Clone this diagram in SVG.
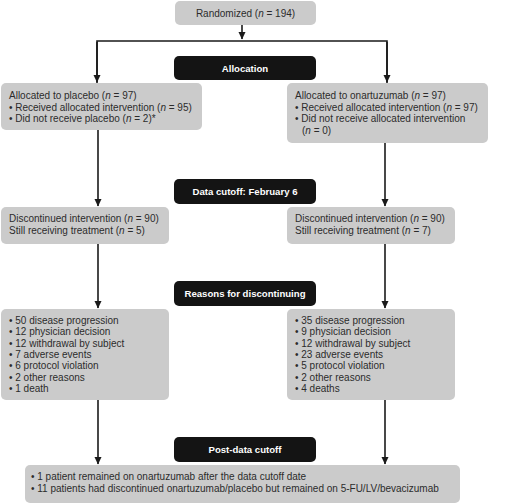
<svg xmlns="http://www.w3.org/2000/svg" width="520" height="504" viewBox="0 0 520 504">
<defs>
<marker id="ah" markerWidth="8" markerHeight="8" refX="7" refY="4" orient="auto" markerUnits="userSpaceOnUse"><path d="M0,0.5 L7.5,4 L0,7.5 Z" fill="#1a1a1a"/></marker>
<style>
.g{fill:#cbcbcb}
.k{fill:#141414}
.t{font-family:"Liberation Sans",Arial,sans-serif;font-size:10px;fill:#2b2b2b}
.w{font-family:"Liberation Sans",Arial,sans-serif;font-size:9.6px;font-weight:bold;fill:#fff}
.i{font-style:italic}
.c{stroke:#1a1a1a;stroke-width:1.6;fill:none}
</style>
</defs>
<rect width="520" height="504" fill="#fff"/>
<g id="connectors">
<path class="c" d="M242,25 V39" marker-end="url(#ah)"/>
<path class="c" d="M97,83 V41 H387 V83" />
<path class="c" d="M97,42 V82" marker-end="url(#ah)"/>
<path class="c" d="M387,42 V82" marker-end="url(#ah)"/>
<path class="c" d="M98,130 V206" marker-end="url(#ah)"/>
<path class="c" d="M385,143 V206" marker-end="url(#ah)"/>
<path class="c" d="M98,244 V308" marker-end="url(#ah)"/>
<path class="c" d="M385,244 V308" marker-end="url(#ah)"/>
<path class="c" d="M98,400 V464" marker-end="url(#ah)"/>
<path class="c" d="M385,400 V464" marker-end="url(#ah)"/>
</g>
<g id="randomized"><rect class="g" x="175" y="1" width="141" height="24" rx="5"/><text class="t" x="245.5" y="16.5" text-anchor="middle">Randomized (<tspan class="i">n</tspan> = 194)</text></g>
<g id="allocation"><rect class="k" x="174" y="56" width="142" height="24" rx="5"/><text class="w" x="245" y="71.5" text-anchor="middle">Allocation</text></g>
<g id="placebo"><rect class="g" x="1" y="83" width="201" height="47" rx="5"/>
<text class="t" x="9" y="99">Allocated to placebo (<tspan class="i">n</tspan> = 97)</text>
<text class="t" x="9" y="110.5">• Received allocated intervention (<tspan class="i">n</tspan> = 95)</text>
<text class="t" x="9" y="122">• Did not receive placebo (<tspan class="i">n</tspan> = 2)*</text></g>
<g id="onartuzumab"><rect class="g" x="287" y="83" width="201" height="60" rx="5"/>
<text class="t" x="295" y="99">Allocated to onartuzumab (<tspan class="i">n</tspan> = 97)</text>
<text class="t" x="295" y="110.5">• Received allocated intervention (<tspan class="i">n</tspan> = 97)</text>
<text class="t" x="295" y="122">• Did not receive allocated intervention</text>
<text class="t" x="302" y="133.5">(<tspan class="i">n</tspan> = 0)</text></g>
<g id="datacutoff"><rect class="k" x="174" y="179" width="142" height="25" rx="5"/><text class="w" x="245" y="195" text-anchor="middle">Data cutoff: February 6</text></g>
<g id="disc-left"><rect class="g" x="1" y="207" width="168" height="37" rx="5"/>
<text class="t" x="9" y="222">Discontinued intervention (<tspan class="i">n</tspan> = 90)</text>
<text class="t" x="9" y="233.5">Still receiving treatment (<tspan class="i">n</tspan> = 5)</text></g>
<g id="disc-right"><rect class="g" x="287" y="207" width="168" height="37" rx="5"/>
<text class="t" x="295" y="222">Discontinued intervention (<tspan class="i">n</tspan> = 90)</text>
<text class="t" x="295" y="233.5">Still receiving treatment (<tspan class="i">n</tspan> = 7)</text></g>
<g id="reasons"><rect class="k" x="174" y="281" width="142" height="25" rx="5"/><text class="w" x="245" y="297" text-anchor="middle">Reasons for discontinuing</text></g>
<g id="reasons-left"><rect class="g" x="1" y="309" width="168" height="91" rx="5"/>
<text class="t" x="9" y="324">• 50 disease progression</text>
<text class="t" x="9" y="335.3">• 12 physician decision</text>
<text class="t" x="9" y="346.6">• 12 withdrawal by subject</text>
<text class="t" x="9" y="357.9">• 7 adverse events</text>
<text class="t" x="9" y="369.2">• 6 protocol violation</text>
<text class="t" x="9" y="380.5">• 2 other reasons</text>
<text class="t" x="9" y="391.8">• 1 death</text></g>
<g id="reasons-right"><rect class="g" x="287" y="309" width="168" height="91" rx="5"/>
<text class="t" x="295" y="324">• 35 disease progression</text>
<text class="t" x="295" y="335.3">• 9 physician decision</text>
<text class="t" x="295" y="346.6">• 12 withdrawal by subject</text>
<text class="t" x="295" y="357.9">• 23 adverse events</text>
<text class="t" x="295" y="369.2">• 5 protocol violation</text>
<text class="t" x="295" y="380.5">• 2 other reasons</text>
<text class="t" x="295" y="391.8">• 4 deaths</text></g>
<g id="postcutoff"><rect class="k" x="174" y="437" width="142" height="25" rx="5"/><text class="w" x="245" y="453" text-anchor="middle">Post-data cutoff</text></g>
<g id="post-box"><rect class="g" x="25" y="465" width="435" height="38" rx="5"/>
<text class="t" x="31" y="480">• 1 patient remained on onartuzumab after the data cutoff date</text>
<text class="t" x="31" y="491.5">• 11 patients had discontinued onartuzumab/placebo but remained on 5-FU/LV/bevacizumab</text></g>
</svg>
